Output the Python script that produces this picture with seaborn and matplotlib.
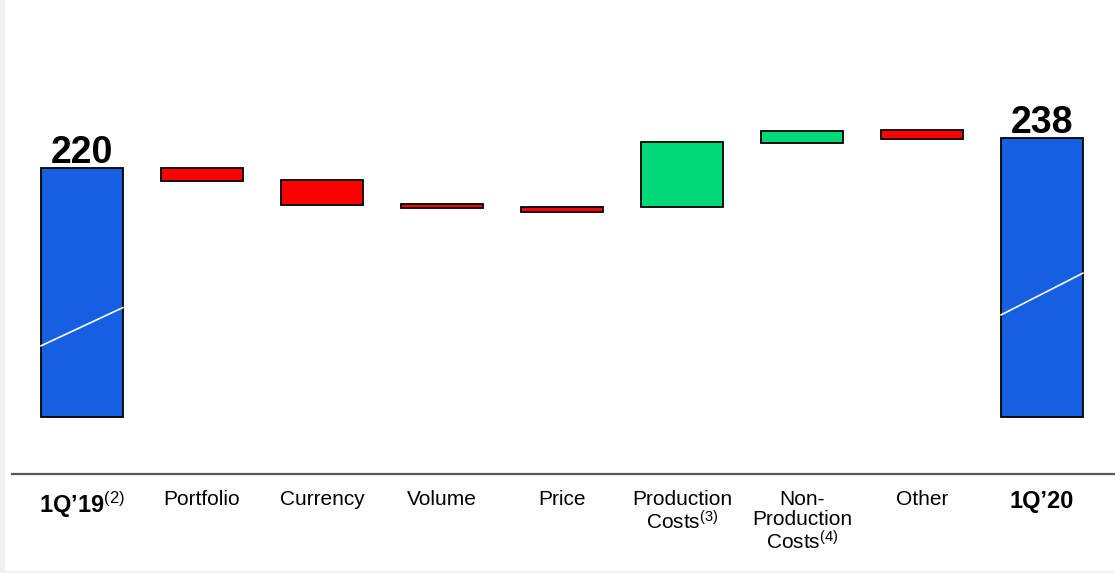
import matplotlib
matplotlib.use("Agg")
import matplotlib.pyplot as plt
import seaborn as sns
import pandas as pd
from matplotlib.patches import Rectangle

# waterfall steps (levels, axis is broken below ~68)
steps = ["1Q’19", "Portfolio", "Currency", "Volume", "Price",
         "Production\nCosts", "Non-\nProduction\nCosts", "Other", "1Q’20"]
notes = ["(2)", "", "", "", "", "(3)", "(4)", "", ""]
bar_from = [67.5, 220.0, 212.3, 198.0, 196.1, 195.8, 234.9, 242.9, 67.5]
bar_to = [220.0, 211.9, 197.3, 195.5, 192.9, 235.6, 242.7, 237.6, 238.0]
kinds = ["total", "down", "down", "down", "down", "up", "up", "down", "total"]
totals = {0: "220", 8: "238"}
# white "axis break" strokes across the two total bars (left level, right level)
break_marks = {0: (110.9, 134.4), 8: (129.8, 155.5)}

colors = {"total": "#165FE2", "down": "#FF0000", "up": "#00D978"}

df = pd.DataFrame({
    "step": steps,
    "height": [t - f for f, t in zip(bar_from, bar_to)],
    "bottom": bar_from,
    "kind": kinds,
})

sns.set_theme(style="white")
plt.rcParams["font.family"] = ["Liberation Sans", "DejaVu Sans"]
plt.rcParams["text.color"] = "black"
plt.rcParams["mathtext.fontset"] = "custom"
plt.rcParams["mathtext.rm"] = "Liberation Sans"
plt.rcParams["mathtext.it"] = "Liberation Sans"
plt.rcParams["mathtext.bf"] = "Liberation Sans:bold"

fig = plt.figure(figsize=(11.15, 5.73), dpi=100)
ax = fig.add_axes([12 / 1115, (573 - 474.3) / 573, 1 - 12 / 1115, 474.3 / 573])

bar_w = 0.685
sns.barplot(data=df, x="step", y="height", bottom=df["bottom"].values,
            color=colors["total"], saturation=1,
            width=bar_w, edgecolor="black", linewidth=1.3, ax=ax)
for patch, k in zip(ax.patches, df["kind"]):
    patch.set_facecolor(colors[k])

# break strokes
for i, (y0, y1) in break_marks.items():
    ax.plot([i - bar_w / 2, i + bar_w / 2], [y0, y1], color="white", lw=1.2, zorder=5)

# total labels
for i, txt in totals.items():
    ax.annotate(txt, (i, bar_to[i]), xytext=(0, 3.5), textcoords="offset points",
                ha="center", va="baseline", fontsize=27, fontweight="bold",
                color="black")

labels = []
for s, n in zip(steps, notes):
    labels.append(s + ("$^{%s}$" % n if n else ""))
ax.set_xticks(range(len(steps)))
ax.set_xticklabels(labels, fontsize=15, color="black", linespacing=1.08)
for i, t in enumerate(ax.get_xticklabels()):
    if kinds[i] == "total":
        t.set_fontweight("bold")
        t.set_fontsize(17)
ax.tick_params(axis="x", length=0, pad=11)
ax.tick_params(axis="y", left=False, labelleft=False)

ax.set_xlim((12 - 82) / 120, (1115 - 82) / 120)
ax.set_ylim(32.25, 322.7)
ax.set_xlabel("")
ax.set_ylabel("")
for side in ["left", "top", "right"]:
    ax.spines[side].set_visible(False)
ax.spines["bottom"].set_color("#585858")
ax.spines["bottom"].set_linewidth(1.6)

# light grey slide edges
fig.patches.append(Rectangle((0, 0), 4 / 1115, 1, transform=fig.transFigure,
                             color="#f0f0f0", zorder=-1))
fig.patches.append(Rectangle((0, 0), 1, 2.5 / 573, transform=fig.transFigure,
                             color="#f0f0f0", zorder=-1))

fig.savefig("out.png", dpi=100)
